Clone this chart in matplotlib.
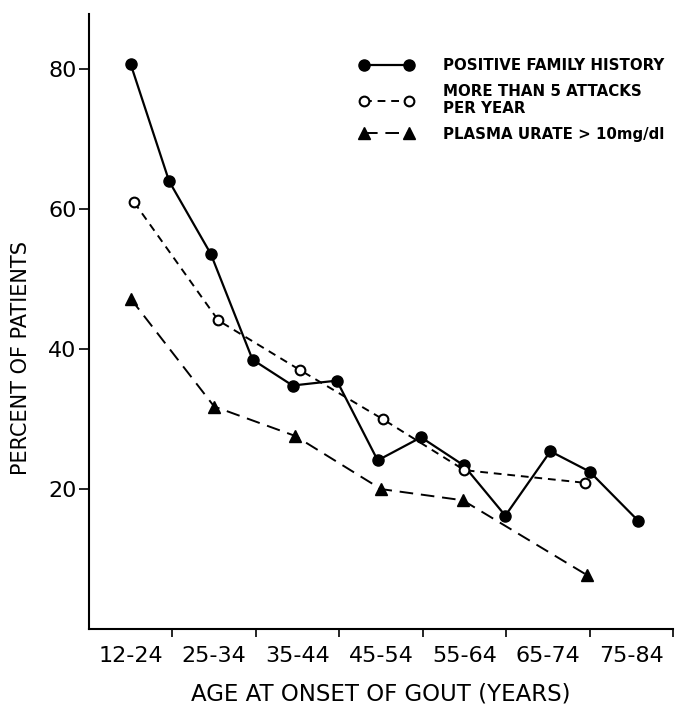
import numpy as np
import matplotlib
matplotlib.use("Agg")
import matplotlib.pyplot as plt

plt.rcParams.update({
    "font.family": "DejaVu Sans",
    "axes.linewidth": 1.5,
})

# age groups (one decade per interval on the x axis)
age_groups = ["12-24", "25-34", "35-44", "45-54", "55-64", "65-74", "75-84"]

# x positions in interval units (0 = centre of "12-24")
family_x = [0.0, 0.46, 0.96, 1.46, 1.94, 2.47, 2.96, 3.48, 3.99, 4.49, 5.03, 5.50, 6.08]
family_y = [80.7, 64.0, 53.6, 38.5, 34.8, 35.5, 24.1, 27.4, 23.4, 16.2, 25.4, 22.5, 15.5]

attacks_x = [0.04, 1.05, 2.03, 3.02, 4.0, 5.44]
attacks_y = [61.0, 44.1, 37.0, 30.0, 22.7, 20.9]

urate_x = [0.0, 1.0, 1.97, 3.0, 3.98, 5.47]
urate_y = [47.2, 31.8, 27.6, 20.0, 18.4, 7.7]

fig = plt.figure(figsize=(6.76, 7.07), dpi=100)
ax = fig.add_axes([0.1317, 0.1103, 0.8639, 0.8699])

ax.plot(family_x, family_y, color="black", lw=1.6, ls="-",
        marker="o", ms=8, mfc="black", mec="black",
        label="POSITIVE FAMILY HISTORY")
ax.plot(attacks_x, attacks_y, color="black", lw=1.4, ls=(0, (4, 3)),
        marker="o", ms=7, mfc="white", mec="black", mew=1.5,
        label="MORE THAN 5 ATTACKS\nPER YEAR")
ax.plot(urate_x, urate_y, color="black", lw=1.4, ls=(0, (7, 4)),
        marker="^", ms=8, mfc="black", mec="black",
        label="PLASMA URATE > 10mg/dl")

ax.set_xlim(-0.5, 6.5)
ax.set_ylim(0, 87.9)

ax.set_yticks([20, 40, 60, 80])
ax.tick_params(axis="y", direction="out", length=7, width=1.2, labelsize=16, pad=2)

# ticks sit on the interval boundaries, labels in the middle of each interval
ax.set_xticks(np.arange(len(age_groups)) + 0.5)
ax.set_xticklabels([])
ax.set_xticks(np.arange(len(age_groups)), minor=True)
ax.set_xticklabels(age_groups, minor=True)
ax.tick_params(axis="x", which="major", direction="out", length=6, width=1.2)
ax.tick_params(axis="x", which="minor", length=0, labelsize=16, pad=12)

ax.spines["top"].set_visible(False)
ax.spines["right"].set_visible(False)

ax.set_xlabel("AGE AT ONSET OF GOUT (YEARS)", fontsize=16.5, labelpad=12)
ax.set_ylabel("PERCENT OF PATIENTS", fontsize=15, labelpad=14)
ax.yaxis.set_label_coords(-0.1, 0.44)

leg = ax.legend(loc="upper left", bbox_to_anchor=(0.44, 0.95), frameon=False,
                numpoints=2, handlelength=3.6, handletextpad=2.0,
                labelspacing=0.7, prop={"size": 10.8, "weight": "bold"})

fig.savefig("out.png", dpi=100, facecolor="white")
